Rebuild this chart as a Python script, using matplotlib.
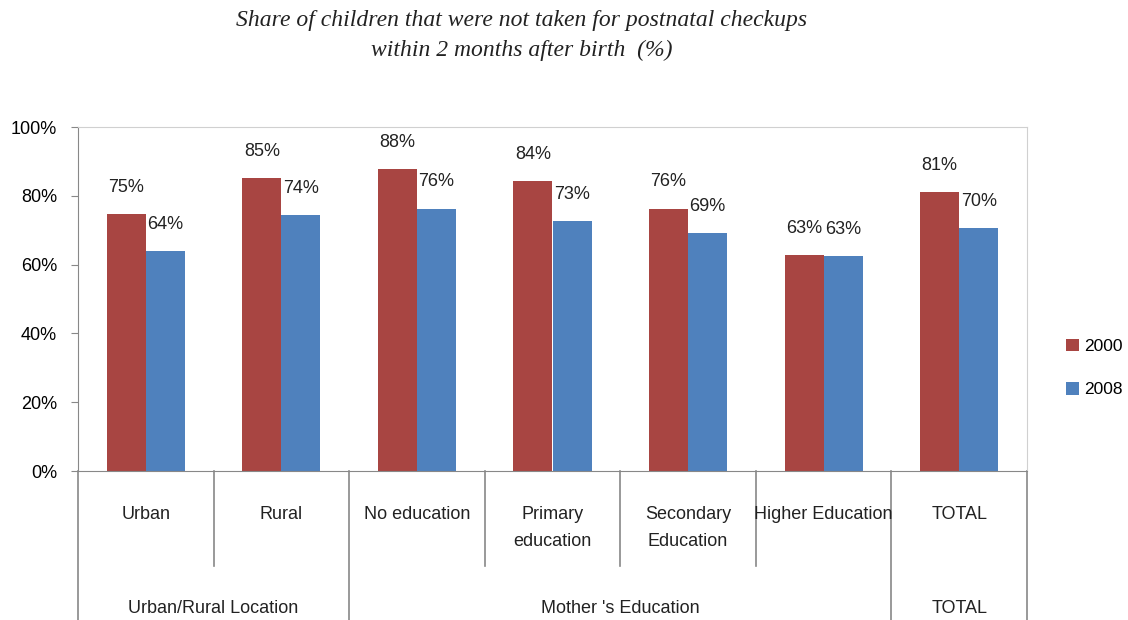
import matplotlib.pyplot as plt
from matplotlib import font_manager
import matplotlib.transforms as mtransforms

# Data
categories = ["Urban", "Rural", "No education", "Primary\neducation",
              "Secondary\nEducation", "Higher Education", "TOTAL"]
groups = ["Urban/Rural Location", "Mother 's Education", "TOTAL"]
group_spans = [(0, 2), (2, 6), (6, 7)]
vals_2000 = [74.6, 85.3, 87.8, 84.2, 76.3, 62.9, 81.1]
vals_2008 = [64.0, 74.5, 76.3, 72.8, 69.2, 62.6, 70.5]
labels_2000 = ["75%", "85%", "88%", "84%", "76%", "63%", "81%"]
labels_2008 = ["64%", "74%", "76%", "73%", "69%", "63%", "70%"]

names = {f.name for f in font_manager.fontManager.ttflist}
sans = "Liberation Sans Narrow" if "Liberation Sans Narrow" in names else "Liberation Sans"

fig = plt.figure(figsize=(11.28, 6.2), dpi=100)
W, H = 1128, 620
ax = fig.add_axes([78 / W, (H - 471) / H, (1027 - 78) / W, (471 - 127) / H])

red = "#A84542"
blue = "#4F81BD"
bw = 0.288
x = [i + 0.5 for i in range(len(categories))]
b1 = ax.bar([xi - bw / 2 for xi in x], vals_2000, bw, color=red, label="2000")
b2 = ax.bar([xi + bw / 2 for xi in x], vals_2008, bw, color=blue, label="2008")

for bars, labs in ((b1, labels_2000), (b2, labels_2008)):
    for r, lab in zip(bars, labs):
        ax.annotate(lab, (r.get_x() + r.get_width() / 2, r.get_height()),
                    xytext=(0, 13), textcoords="offset points", ha="center",
                    va="bottom", fontsize=13, family=sans, color="#222222")

ax.set_xlim(0, 7)
ax.set_ylim(0, 100)
ax.set_yticks(range(0, 101, 20))
ax.set_yticklabels([f"{v}%" for v in range(0, 101, 20)], family=sans, fontsize=13)
ax.set_xticks([])
ax.tick_params(axis="y", length=5, color="#888888", pad=10)
for s in ["top", "right"]:
    ax.spines[s].set_color("#D0D0D0")
ax.spines["left"].set_color("#888888")
ax.spines["bottom"].set_color("#888888")

# hierarchical category axis
trans = mtransforms.blended_transform_factory(ax.transData, ax.transAxes)
px = lambda y: (471 - y) / 344
for xi, c in zip(x, categories):
    ax.text(xi, px(506), c, transform=trans, ha="center", va="top",
            fontsize=13, family=sans, linespacing=1.75, color="#222222")
outer = {0, 2, 6, 7}
for b in range(8):
    yend = px(620) if b in outer else px(566)
    ax.plot([b, b], [0, yend], transform=trans, color="#888888", lw=1.2,
            clip_on=False)
for g, (a, e) in zip(groups, group_spans):
    ax.text((a + e) / 2, px(600), g, transform=trans, ha="center", va="top",
            fontsize=13, family=sans, color="#222222")

fig.text(522 / W, 1 - 10 / H,
         "Share of children that were not taken for postnatal checkups\n"
         "within 2 months after birth  (%)",
         ha="center", va="top", fontsize=17, style="italic",
         family="Liberation Serif", linespacing=1.55, color="#222222")

fig.legend(handles=[b1, b2], labels=["2000", "2008"], loc="center left",
           bbox_to_anchor=(1066 / W, 1 - 368 / H), frameon=False,
           borderpad=0, borderaxespad=0,
           prop={"family": sans, "size": 12.5}, handlelength=0.75,
           handleheight=0.75, handletextpad=0.3, labelspacing=1.6)

fig.savefig("out.png", dpi=100)
